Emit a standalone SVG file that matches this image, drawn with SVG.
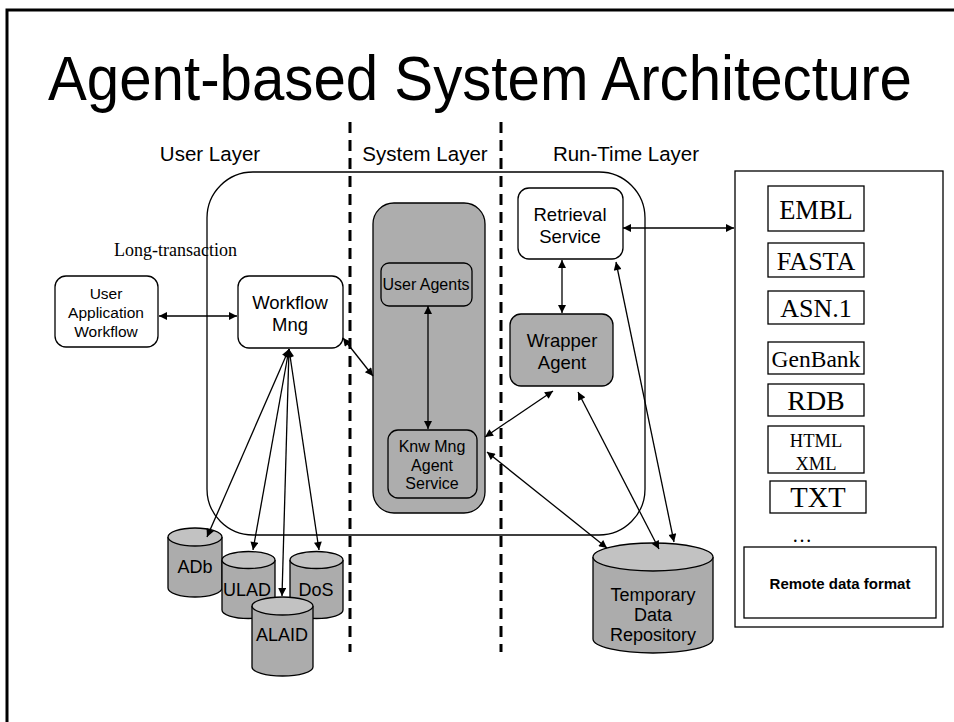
<svg xmlns="http://www.w3.org/2000/svg" width="954" height="722" viewBox="0 0 954 722">
  <defs>
    <marker id="ah" viewBox="0 0 10 10" refX="10" refY="5" markerWidth="10" markerHeight="8" markerUnits="userSpaceOnUse" orient="auto-start-reverse">
      <path d="M0,0 L10,5 L0,10 z" fill="#000"/>
    </marker>
    <style>
      .sans { font-family: "Liberation Sans", Arial, sans-serif; fill: #000; }
      .serif { font-family: "Liberation Serif", "Times New Roman", serif; fill: #000; }
      .box { fill: #fff; stroke: #000; stroke-width: 1.3; }
      .grey { fill: #adadad; stroke: #000; stroke-width: 1.3; }
      .fmt { fill: #fff; stroke: #000; stroke-width: 1.3; }
      .cylbody { fill: #acacac; stroke: #000; stroke-width: 1.3; }
      .cyltop { fill: #c2c2c2; stroke: #000; stroke-width: 1.3; }
      .divider { stroke: #000; stroke-width: 3; stroke-dasharray: 11 7; fill: none; }
      .conn line { stroke: #000; stroke-width: 1.3; marker-start: url(#ah); marker-end: url(#ah); }
    </style>
  </defs>

  <rect width="954" height="722" fill="#fff"/>
  <!-- slide frame -->
  <rect x="7" y="10" width="960" height="730" fill="none" stroke="#000" stroke-width="3"/>

  <!-- title (condensed) -->
  <text class="sans" x="48" y="100" font-size="63" textLength="864" lengthAdjust="spacingAndGlyphs">Agent-based System Architecture</text>

  <!-- layer headings -->
  <text class="sans" x="210" y="161" font-size="20.5" text-anchor="middle">User Layer</text>
  <text class="sans" x="425" y="161" font-size="20.5" text-anchor="middle">System Layer</text>
  <text class="sans" x="626" y="161" font-size="20.5" text-anchor="middle">Run-Time Layer</text>

  <!-- layer dividers -->
  <line class="divider" x1="350" y1="122" x2="350" y2="652"/>
  <line class="divider" x1="501" y1="122" x2="501" y2="652"/>

  <!-- application boundary -->
  <rect id="app-boundary" x="207" y="172" width="438" height="363" rx="46" ry="46" fill="none" stroke="#000" stroke-width="1.3"/>

  <text class="serif" x="114" y="256" font-size="18">Long-transaction</text>

  <g id="user-app-workflow">
    <rect class="box" x="55" y="276" width="103" height="71" rx="11"/>
    <text class="sans" font-size="15.5" text-anchor="middle"><tspan x="106" y="299">User</tspan><tspan x="106" y="318">Application</tspan><tspan x="106" y="337">Workflow</tspan></text>
  </g>

  <g id="workflow-mng">
    <rect class="box" x="238" y="276" width="105" height="72" rx="11"/>
    <text class="sans" font-size="18.5" text-anchor="middle"><tspan x="290" y="309">Workflow</tspan><tspan x="290" y="331">Mng</tspan></text>
  </g>

  <g id="system-layer">
    <rect class="grey" x="373" y="203" width="112" height="310" rx="21"/>
  </g>

  <g id="user-agents">
    <rect class="grey" x="381" y="263" width="91" height="43" rx="8"/>
    <text class="sans" x="426" y="290" font-size="16" text-anchor="middle">User Agents</text>
  </g>

  <g id="knw-mng">
    <rect class="grey" x="388" y="430" width="89" height="68" rx="10"/>
    <text class="sans" font-size="16" text-anchor="middle"><tspan x="432" y="452">Knw Mng</tspan><tspan x="432" y="471">Agent</tspan><tspan x="432" y="489">Service</tspan></text>
  </g>

  <g id="retrieval-service">
    <rect class="box" x="518" y="188" width="105" height="71" rx="11"/>
    <text class="sans" font-size="18.5" text-anchor="middle"><tspan x="570" y="221">Retrieval</tspan><tspan x="570" y="243">Service</tspan></text>
  </g>

  <g id="wrapper-agent">
    <rect class="grey" x="510" y="314" width="103" height="72" rx="11"/>
    <text class="sans" font-size="18.5" text-anchor="middle"><tspan x="562" y="347">Wrapper</tspan><tspan x="562" y="369">Agent</tspan></text>
  </g>

  <!-- remote formats panel -->
  <g id="remote-formats">
    <rect class="fmt" x="735" y="171" width="208" height="456"/>
    <rect class="fmt" x="768" y="186" width="96" height="45"/>
    <text class="serif" x="816" y="219" font-size="26.5" text-anchor="middle">EMBL</text>
    <rect class="fmt" x="768" y="243" width="96" height="34"/>
    <text class="serif" x="816" y="270" font-size="26" text-anchor="middle">FASTA</text>
    <rect class="fmt" x="768" y="291" width="96" height="33"/>
    <text class="serif" x="816" y="317" font-size="26" text-anchor="middle">ASN.1</text>
    <rect class="fmt" x="768" y="342" width="96" height="32"/>
    <text class="serif" x="816" y="367" font-size="23.5" text-anchor="middle">GenBank</text>
    <rect class="fmt" x="768" y="384" width="96" height="32"/>
    <text class="serif" x="816" y="410" font-size="28" text-anchor="middle">RDB</text>
    <rect class="fmt" x="768" y="426" width="96" height="47"/>
    <text class="serif" font-size="18.5" text-anchor="middle"><tspan x="816" y="447">HTML</tspan><tspan x="816" y="470">XML</tspan></text>
    <rect class="fmt" x="770" y="481" width="96" height="32"/>
    <text class="serif" x="818" y="507" font-size="28.5" text-anchor="middle">TXT</text>
    <text class="serif" x="802" y="542" font-size="20" text-anchor="middle">…</text>
    <rect class="fmt" x="744" y="547" width="192" height="71"/>
    <text class="sans" x="840" y="589" font-size="15" font-weight="bold" text-anchor="middle">Remote data format</text>
  </g>

  <!-- local stores -->
  <g id="adb">
    <path class="cylbody" d="M168,537 V588 A27,9 0 0 0 222,588 V537"/>
    <ellipse class="cyltop" cx="195" cy="537" rx="27" ry="9"/>
    <text class="sans" x="195" y="573" font-size="18" text-anchor="middle">ADb</text>
  </g>
  <g id="ulad">
    <path class="cylbody" d="M222,560 V610 A26.5,8.5 0 0 0 275,610 V560"/>
    <ellipse class="cyltop" cx="248.5" cy="560" rx="26.5" ry="8.5"/>
    <text class="sans" x="247" y="596" font-size="18" text-anchor="middle">ULAD</text>
  </g>
  <g id="dos">
    <path class="cylbody" d="M290,560 V610 A26.5,8.5 0 0 0 343,610 V560"/>
    <ellipse class="cyltop" cx="316.5" cy="560" rx="26.5" ry="8.5"/>
    <text class="sans" x="316" y="596" font-size="18" text-anchor="middle">DoS</text>
  </g>
  <g id="alaid">
    <path class="cylbody" d="M252,606 V667 A30.5,9 0 0 0 313,667 V606"/>
    <ellipse class="cyltop" cx="282.5" cy="606" rx="30.5" ry="9"/>
    <text class="sans" x="282" y="641" font-size="18" text-anchor="middle">ALAID</text>
  </g>
  <g id="temp-repository">
    <path class="cylbody" d="M593,557 V639 A60,14 0 0 0 713,639 V557"/>
    <ellipse class="cyltop" cx="653" cy="557" rx="60" ry="14"/>
    <text class="sans" font-size="18" text-anchor="middle"><tspan x="653" y="601">Temporary</tspan><tspan x="653" y="621">Data</tspan><tspan x="653" y="641">Repository</tspan></text>
  </g>

  <!-- connectors -->
  <g id="connectors" class="conn">
    <line x1="159" y1="316" x2="237" y2="316"/>
    <line x1="289" y1="349" x2="207" y2="537"/>
    <line x1="289" y1="349" x2="253" y2="550"/>
    <line x1="289" y1="349" x2="282" y2="596"/>
    <line x1="289" y1="349" x2="319" y2="550"/>
    <line x1="343" y1="338" x2="373" y2="376"/>
    <line x1="428" y1="306" x2="428" y2="429"/>
    <line x1="562" y1="260" x2="562" y2="313"/>
    <line x1="623" y1="228" x2="734" y2="228"/>
    <line x1="553" y1="391" x2="485" y2="437"/>
    <line x1="487" y1="452" x2="607" y2="548"/>
    <line x1="578" y1="392" x2="659" y2="549"/>
    <line x1="616" y1="262" x2="674" y2="542"/>
  </g>
</svg>
